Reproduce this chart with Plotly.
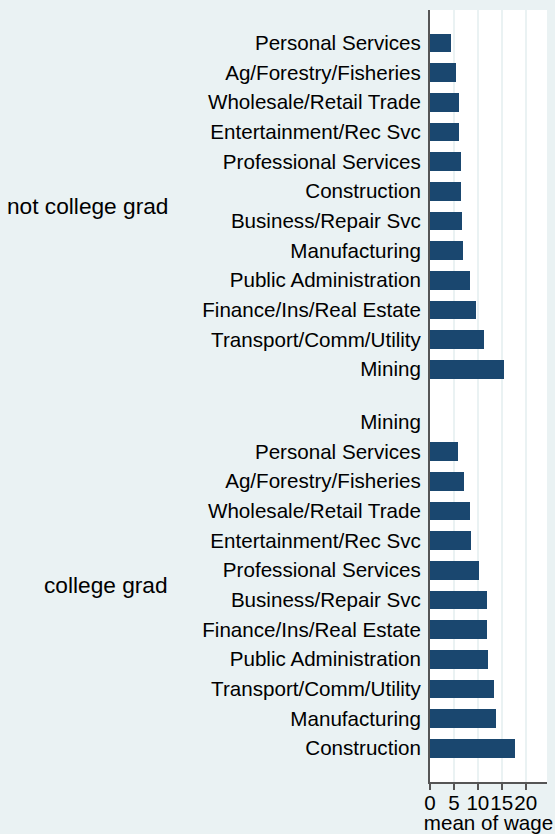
import plotly.graph_objects as go

# ---- data ----
group_labels = ["not college grad", "college grad"]

industries_not = [
    "Personal Services", "Ag/Forestry/Fisheries", "Wholesale/Retail Trade",
    "Entertainment/Rec Svc", "Professional Services", "Construction",
    "Business/Repair Svc", "Manufacturing", "Public Administration",
    "Finance/Ins/Real Estate", "Transport/Comm/Utility", "Mining",
]
wage_not = [4.4, 5.35, 5.97, 6.04, 6.39, 6.46, 6.6, 6.94, 8.33, 9.51, 11.25, 15.4]

industries_grad = [
    "Mining", "Personal Services", "Ag/Forestry/Fisheries", "Wholesale/Retail Trade",
    "Entertainment/Rec Svc", "Professional Services", "Business/Repair Svc",
    "Finance/Ins/Real Estate", "Public Administration", "Transport/Comm/Utility",
    "Manufacturing", "Construction",
]
wage_grad = [None, 5.76, 7.15, 8.33, 8.61, 10.2, 11.9, 12.0, 12.15, 13.3, 13.8, 17.8]

x_ticks = [0, 5, 10, 15, 20]
x_title = "mean of wage"

# ---- styling / layout ----
BG = "#EAF2F3"
BAR = "#1A476F"
AXIS = "#555555"
FONT = "Liberation Sans, Arial, sans-serif"
FS = 20.6
GAP = 0.78

pos_not = [float(i) for i in range(len(industries_not))]
pos_grad = [len(industries_not) + GAP + j for j in range(len(industries_grad))]

fig = go.Figure()
fig.add_trace(go.Bar(
    x=wage_not + wage_grad,
    y=pos_not + pos_grad,
    orientation="h",
    width=0.63,
    marker=dict(color=BAR, line=dict(width=0)),
    showlegend=False,
    hoverinfo="x",
))

all_pos = pos_not + pos_grad
fig.update_layout(
    width=555, height=834,
    paper_bgcolor=BG, plot_bgcolor="white",
    margin=dict(l=430, r=8, t=10, b=52),
    font=dict(family=FONT, size=FS, color="black"),
    bargap=0,
)
fig.update_yaxes(
    tickmode="array", tickvals=all_pos, ticktext=industries_not + industries_grad,
    range=[all_pos[-1] + 1.14, -1.11], autorange=False,
    showgrid=False, zeroline=False,
    showline=True, linecolor=AXIS, linewidth=2,
    ticks="", ticklabelstandoff=3,
    tickfont=dict(size=FS, family=FONT, color="black"),
    automargin=False,
)
fig.update_xaxes(
    range=[0, 24.45], autorange=False,
    tickmode="array", tickvals=x_ticks, ticktext=[str(t) for t in x_ticks],
    tickangle=0,
    showgrid=True, gridcolor=BG, gridwidth=1.5,
    zeroline=False,
    showline=True, linecolor=AXIS, linewidth=2,
    ticks="outside", ticklen=6, tickcolor=AXIS, tickwidth=1.5,
    ticklabelstandoff=-5,
    tickfont=dict(size=FS, family=FONT, color="black"),
    title=dict(text=x_title, font=dict(size=FS, family=FONT, color="black"), standoff=3),
    automargin=False,
)

centers = [sum(pos_not) / len(pos_not), sum(pos_grad) / len(pos_grad)]
for lab, c in zip(group_labels, centers):
    fig.add_annotation(
        text=lab, x=0, xref="paper", y=c, yref="y",
        xanchor="right", yanchor="middle", xshift=-260,
        showarrow=False, font=dict(size=22.7, family=FONT, color="black"),
    )

fig.write_html(
    "out.html",
    config={"displayModeBar": False},
    post_script="document.body.style.margin='0';document.body.style.background='%s';" % BG,
)
